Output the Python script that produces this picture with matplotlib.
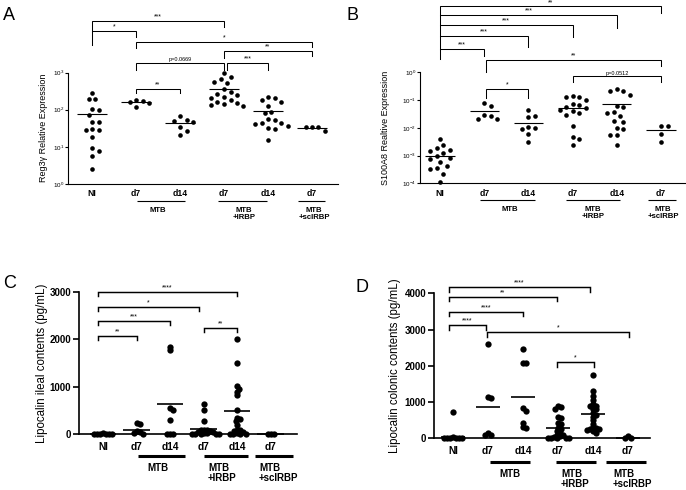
import numpy as np
import matplotlib
matplotlib.use("Agg")
import matplotlib.pyplot as plt
from matplotlib.ticker import NullLocator

plt.rcParams["font.family"] = ["Liberation Sans", "DejaVu Sans"]
plt.rcParams["mathtext.fontset"] = "custom"
plt.rcParams["mathtext.rm"] = "Liberation Sans"
plt.rcParams["mathtext.it"] = "Liberation Sans:italic"
plt.rcParams["mathtext.bf"] = "Liberation Sans:bold"

W, H = 686, 490

group_labels = ["NI", "d7", "d14", "d7", "d14", "d7"]
condition_labels = ["MTB", "MTB\n+IRBP", "MTB\n+scIRBP"]

# A - Reg3g relative expression
reg3g_ni = [282, 195, 195, 107, 96, 73, 48, 48, 30, 28, 28, 18, 9.5, 7.5, 5.6, 2.6]
reg3g_d7 = [182, 171, 160, 151, 118]
reg3g_d14 = [68, 52, 51, 47, 34, 26, 21]
reg3g_irbp_d7 = [940, 760, 660, 540, 520, 350, 290, 270, 250, 215, 205, 180, 160, 150, 140, 130, 125]
reg3g_irbp_d14 = [225, 205, 185, 160, 125, 85, 80, 55, 52, 45, 43, 40, 37, 32, 30, 15]
reg3g_sc_d7 = [35, 34, 35, 27]
reg3g_center = [75, 158, 43, 360, 92, 33]
reg3g_ticks = [1, 10, 100, 1000]
reg3g_ticklabels = ["$10^0$", "$10^1$", "$10^2$", "$10^3$"]
reg3g_stats = [(0, 3, "***"), (0, 1, "*"), (1, 5, "*"), (3, 5, "**"),
               (1, 3, "p=0.0669"), (3, 4, "***"), (1, 2, "**")]

# B - S100A8 relative expression
s100_ni = [3.9e-3, 2.4e-3, 1.8e-3, 1.6e-3, 1.4e-3, 1.2e-3, 1.0e-3, 8e-4, 7.5e-4,
           6e-4, 4.2e-4, 3.5e-4, 3.3e-4, 2.2e-4, 1.1e-4]
s100_d7 = [0.08, 0.06, 0.028, 0.027, 0.020, 0.020]
s100_d14 = [0.043, 0.027, 0.025, 0.011, 0.010, 0.009, 0.006, 0.003]
s100_irbp_d7 = [0.13, 0.13, 0.14, 0.10, 0.07, 0.065, 0.055, 0.05, 0.045, 0.04, 0.035,
                0.03, 0.012, 0.0045, 0.004, 0.0025]
s100_irbp_d14 = [0.24, 0.22, 0.21, 0.15, 0.062, 0.055, 0.037, 0.035, 0.027, 0.017,
                 0.016, 0.010, 0.009, 0.0057, 0.0055, 0.0024]
s100_sc_d7 = [0.012, 0.012, 0.006, 0.003]
s100_center = [1e-3, 0.04, 0.015, 0.05, 0.07, 0.008]
s100_ticks = [1e-4, 1e-3, 1e-2, 1e-1, 1]
s100_ticklabels = ["$10^{-4}$", "$10^{-3}$", "$10^{-2}$", "$10^{-1}$", "$10^0$"]
s100_stats = [(0, 5, "**"), (0, 4, "***"), (0, 3, "***"), (0, 2, "***"), (0, 1, "***"),
              (1, 5, "**"), (3, 5, "p=0.0512"), (1, 2, "*")]

# C - Lipocalin ileal contents (pg/mL)
ileal_ni = [0, 0, 0, 0, 0, 15, 20]
ileal_d7 = [230, 220, 60, 40, 20, 0]
ileal_d14 = [1840, 1770, 560, 520, 300, 0, 0, 0]
ileal_irbp_d7 = [640, 510, 270, 100, 90, 80, 60, 50, 40, 30, 20, 10, 0, 0, 0, 0]
ileal_irbp_d14 = [2000, 1500, 1020, 960, 900, 820, 520, 340, 320, 280, 200, 100, 80,
                  60, 40, 20, 10, 0, 0, 0]
ileal_sc_d7 = [0, 0, 0]
ileal_center = [10, 100, 630, 105, 490, 0]
ileal_ticks = [0, 1000, 2000, 3000]
ileal_stats = [(0, 4, "****"), (0, 3, "*"), (0, 2, "***"), (0, 1, "**"), (3, 4, "**")]

# D - Lipocalin colonic contents (pg/mL)
colonic_ni = [720, 30, 20, 10, 0, 0, 0, 0]
colonic_d7 = [2600, 1150, 1120, 160, 90, 90]
colonic_d14 = [2450, 2070, 2070, 830, 760, 430, 300, 290]
colonic_irbp_d7 = [880, 850, 820, 600, 560, 420, 400, 280, 250, 200, 150, 100, 80, 60,
                   40, 20, 10, 0, 0, 0]
colonic_irbp_d14 = [1760, 1310, 1160, 1050, 950, 900, 880, 820, 800, 700, 650, 600,
                    500, 400, 300, 280, 260, 250, 240, 200, 150]
colonic_sc_d7 = [60, 0, 0]
colonic_center = [40, 860, 1140, 290, 670, 20]
colonic_ticks = [0, 1000, 2000, 3000, 4000]
colonic_stats = [(0, 4, "****"), (0, 3, "**"), (0, 2, "****"), (0, 1, "****"),
                 (1, 5, "*"), (3, 4, "*")]

panels = [
    dict(letter="A", values=[reg3g_ni, reg3g_d7, reg3g_d14, reg3g_irbp_d7, reg3g_irbp_d14, reg3g_sc_d7],
         center=reg3g_center, log=True, ylim=(1, 1000), ticks=reg3g_ticks, ticklabels=reg3g_ticklabels,
         ylabel="Reg3\u03b3 Relative Expression", stats=reg3g_stats,
         box=(68, 72.5, 338, 184), g0=92, gs=44, dot=4.6, coll=6.5, half=0.33, lw=0.8,
         tick_fs=4.5, tick_bold=False, ylabel_fs=6.5, ylabel_x=43, letter_xy=(9, 16),
         group_y=193, group_fs=6.2, cond_y=201, cond_lw=0.8, cond_fs=5.6, cond_text_y=206.5,
         cond_lines=[(137, 185), (218, 267), (298, 325)],
         cond_text=[(158, "center"), (244, "center"), (314, "center")],
         star_fs=5, p_fs=4,
         brackets=[(21, 31, 27, 0, 0), (31, 45, 37, 0, 0), (42, 48, 47, 0, 0), (51, 58, 56, 0, 0),
                   (63, 70, 70, 0, 0), (63, 70, 70, 3, 0), (89, 93, 93, 0, 0)]),
    dict(letter="B", values=[s100_ni, s100_d7, s100_d14, s100_irbp_d7, s100_irbp_d14, s100_sc_d7],
         center=s100_center, log=True, ylim=(1e-4, 1), ticks=s100_ticks, ticklabels=s100_ticklabels,
         ylabel="S100A8 Realtive Expression", stats=s100_stats,
         box=(420, 72.3, 685, 183.3), g0=440, gs=44.2, dot=4.6, coll=6.5, half=0.33, lw=0.8,
         tick_fs=4.5, tick_bold=False, ylabel_fs=6.5, ylabel_x=386, letter_xy=(352, 16),
         group_y=193, group_fs=6.2, cond_y=200, cond_lw=0.8, cond_fs=5.6, cond_text_y=206,
         cond_lines=[(480, 535), (566, 620), (648, 676)],
         cond_text=[(510, "center"), (593, "center"), (663, "center")],
         star_fs=5, p_fs=4,
         brackets=[(6.5, 15, 13, 0, 0), (15, 25, 28, 0, 0), (25, 36, 37, 0, 0), (36, 49, 47, 0, 0),
                   (49, 59, 56, 0, 0), (60, 72, 66, 2, 0), (76, 82, 82, 0, 0), (89, 98, 98, 2, 0)]),
    dict(letter="C", values=[ileal_ni, ileal_d7, ileal_d14, ileal_irbp_d7, ileal_irbp_d14, ileal_sc_d7],
         center=ileal_center, log=False, ylim=(0, 3000), ticks=ileal_ticks,
         ticklabels=[str(t) for t in ileal_ticks],
         ylabel="Lipocalin ileal contents (pg/mL)", stats=ileal_stats,
         box=(79, 291.7, 297, 434.3), g0=103, gs=33.5, dot=6.3, coll=3.0, half=0.4, lw=1.2,
         tick_fs=7, tick_bold=True, ylabel_fs=8.3, ylabel_x=42, letter_xy=(10, 283),
         group_y=447, group_fs=7.3, cond_y=456, cond_lw=2.2, cond_fs=7, cond_text_y=463,
         cond_lines=[(138, 185), (204, 248), (255, 293)],
         cond_text=[(158, "center"), (208, "left"), (259, "left")],
         star_fs=5, p_fs=4,
         brackets=[(291.7, 296, 296, -5, 0), (307, 311, 311, -5, -5), (321, 325, 325, -5, 0),
                   (336, 340, 340, -5, 0), (328, 332, 332, 0, 0)]),
    dict(letter="D", values=[colonic_ni, colonic_d7, colonic_d14, colonic_irbp_d7, colonic_irbp_d14, colonic_sc_d7],
         center=colonic_center, log=False, ylim=(0, 4000), ticks=colonic_ticks,
         ticklabels=[str(t) for t in colonic_ticks],
         ylabel="Lipocalin colonic contents (pg/mL)", stats=colonic_stats,
         box=(434, 293.3, 650, 438.3), g0=453, gs=35, dot=6.3, coll=3.0, half=0.35, lw=1.2,
         tick_fs=7, tick_bold=True, ylabel_fs=8.3, ylabel_x=395, letter_xy=(362, 287),
         group_y=451, group_fs=7.3, cond_y=462, cond_lw=2.2, cond_fs=7, cond_text_y=469,
         cond_lines=[(490, 530), (556, 596), (606, 646)],
         cond_text=[(510, "center"), (561, "left"), (613, "left")],
         star_fs=5, p_fs=4,
         brackets=[(286.7, 292, 292, -4, -3), (297, 301, 301, -4, -1), (312, 316, 316, -4, 0),
                   (325, 330, 330, -4, -2), (332, 337, 337, -1, 1), (362, 367, 367, -1, 1)]),
]


def swarm_offsets(ax, vals, diam):
    # spread points sideways so they do not overlap (pixel units)
    ys = ax.transData.transform(np.column_stack([np.zeros(len(vals)), vals]))[:, 1]
    placed = []
    offsets = np.zeros(len(ys))
    step = diam * 0.5
    for idx in np.argsort(-ys):
        y = ys[idx]
        k = 0
        while True:
            cand = ((k + 1) // 2) * step * (1 if k % 2 else -1)
            if all((cand - px) ** 2 + (y - py) ** 2 >= diam ** 2 for px, py in placed):
                break
            k += 1
        placed.append((cand, y))
        offsets[idx] = cand
    return offsets


fig = plt.figure(figsize=(W / 100, H / 100), dpi=100)
ov = fig.add_axes([0, 0, 1, 1], zorder=5)
ov.set_xlim(0, W)
ov.set_ylim(H, 0)
ov.axis("off")
ov.patch.set_alpha(0)

for p in panels:
    x0, y0, x1, y1 = p["box"]
    ax = fig.add_axes([x0 / W, 1 - y1 / H, (x1 - x0) / W, (y1 - y0) / H])
    ax.patch.set_alpha(0)
    if p["log"]:
        ax.set_yscale("log")
    ax.set_ylim(*p["ylim"])
    ax.set_xlim((x0 - p["g0"]) / p["gs"], (x1 - p["g0"]) / p["gs"])
    ax.set_yticks(p["ticks"])
    ax.set_yticklabels(p["ticklabels"], fontsize=p["tick_fs"],
                       fontweight="bold" if p["tick_bold"] else "normal")
    ax.yaxis.set_minor_locator(NullLocator())
    ax.set_xticks([])
    for s in ["top", "right"]:
        ax.spines[s].set_visible(False)
    for s in ["left", "bottom"]:
        ax.spines[s].set_linewidth(p["lw"])
    ax.tick_params(axis="y", direction="out", length=2 if p["log"] else 4, width=p["lw"],
                   pad=1 if p["log"] else 1.5)

    ms = p["dot"] / 100 * 72
    for i, vals in enumerate(p["values"]):
        offs = swarm_offsets(ax, vals, p["coll"])
        ax.scatter(i + offs / p["gs"], vals, s=ms ** 2, color="black", linewidths=0,
                   clip_on=False, zorder=3)
        ax.plot([i - p["half"], i + p["half"]], [p["center"][i]] * 2, color="black",
                lw=p["lw"], solid_capstyle="butt", clip_on=False, zorder=4)

    # y label, panel letter
    ov.text(p["ylabel_x"], (y0 + y1) / 2, p["ylabel"], rotation=90, ha="center", va="center",
            fontsize=p["ylabel_fs"])
    ov.text(*p["letter_xy"], p["letter"], ha="center", va="center", fontsize=13)

    gx = lambda g: p["g0"] + g * p["gs"]
    for i, lab in enumerate(group_labels):
        ov.text(gx(i), p["group_y"], lab, ha="center", va="center", fontsize=p["group_fs"],
                fontweight="bold")
    for (lx0, lx1), (tx, ha), lab in zip(p["cond_lines"], p["cond_text"], condition_labels):
        ov.plot([lx0, lx1], [p["cond_y"], p["cond_y"]], color="black", lw=p["cond_lw"],
                solid_capstyle="butt")
        ov.text(tx, p["cond_text_y"], lab, ha=ha, va="top", fontsize=p["cond_fs"],
                fontweight="bold", multialignment=ha, linespacing=1.0)

    for (g1, g2, lab), (top, lb, rb, nl, nr) in zip(p["stats"], p["brackets"]):
        xa, xb = gx(g1) + nl, gx(g2) + nr
        ov.plot([xa, xa, xb, xb], [lb, top, top, rb], color="black", lw=0.8 * p["lw"] + 0.1,
                solid_joinstyle="miter")
        ov.text((xa + xb) / 2, top - 0.5, lab, ha="center", va="bottom",
                fontsize=p["p_fs"] if lab.startswith("p") else p["star_fs"])

fig.savefig("out.png", dpi=100)
